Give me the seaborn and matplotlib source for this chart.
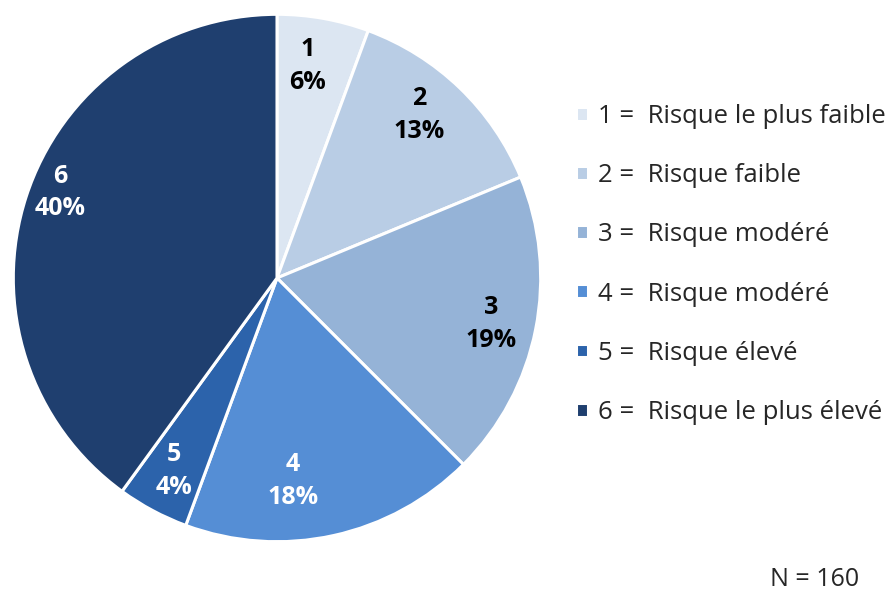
import matplotlib
matplotlib.use("Agg")
import matplotlib.pyplot as plt
import seaborn as sns

# counts per risk category (N = 160)
categories = ["1", "2", "3", "4", "5", "6"]
counts = [9, 21, 30, 29, 7, 64]
legend_labels = [
    "1 =  Risque le plus faible",
    "2 =  Risque faible",
    "3 =  Risque modéré",
    "4 =  Risque modéré",
    "5 =  Risque élevé",
    "6 =  Risque le plus élevé",
]
colors = ["#DCE6F2", "#B9CDE5", "#95B3D7", "#558ED5", "#2C63AB", "#1F3F6F"]
text_colors = ["black", "black", "black", "white", "white", "white"]
# label placement (in pie-radius units), "best fit" style
label_xy = [(0.117, 0.803), (0.540, 0.618), (0.811, -0.174),
            (0.060, -0.770), (-0.392, -0.733), (-0.823, 0.324)]

sns.set_theme(style="white")
plt.rcParams["font.family"] = ["Open Sans", "DejaVu Sans"]

fig = plt.figure(figsize=(8.89, 5.91), dpi=100)
ax = fig.add_axes([12 / 889, 48 / 591, 530 / 889, 530 / 591])

total = sum(counts)
labels = [f"{c}\n{round(n / total * 100)}%" for c, n in zip(categories, counts)]

wedges, texts = ax.pie(
    counts,
    colors=sns.color_palette(colors),
    startangle=90,
    counterclock=False,
    labels=labels,
    wedgeprops=dict(edgecolor="white", linewidth=2.2),
    textprops=dict(fontsize=18, fontweight="bold", ha="center", va="center",
                   linespacing=1.4),
)
for t, col, xy in zip(texts, text_colors, label_xy):
    t.set_color(col)
    t.set_horizontalalignment("center")
    t.set_position(xy)
ax.set_aspect("equal")
ax.set_xlim(-1.005, 1.005)
ax.set_ylim(-1.005, 1.005)

fig.legend(
    wedges, legend_labels,
    loc="upper left", bbox_to_anchor=(576 / 889, 1 - 104 / 591),
    frameon=False, fontsize=18.5,
    handlelength=0.45, handleheight=0.45, handletextpad=0.4,
    labelspacing=1.33, borderaxespad=0, borderpad=0,
)

fig.text(815 / 889, 1 - 579 / 591, "N = 160", fontsize=18, ha="center", va="center")

fig.savefig("out.png", dpi=100)
